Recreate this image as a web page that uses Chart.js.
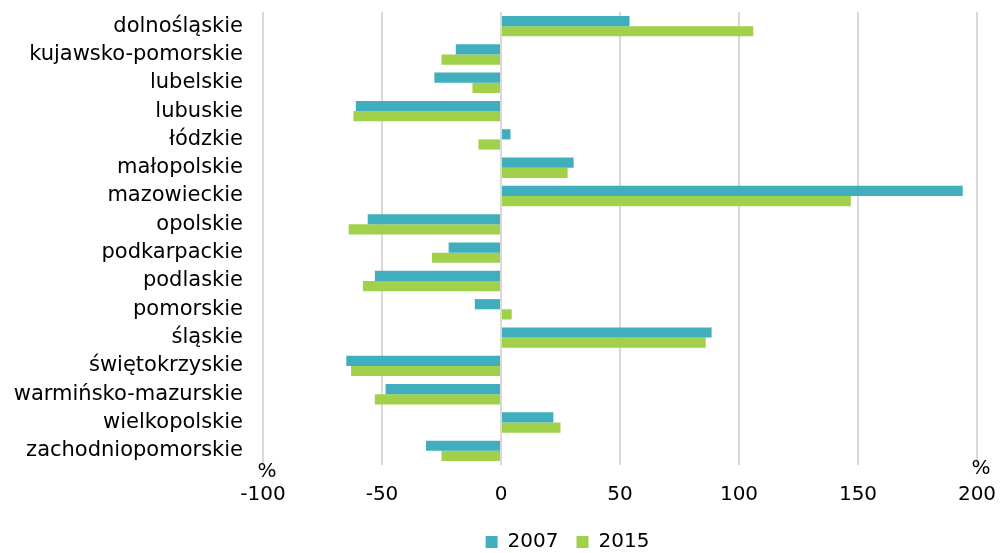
<!DOCTYPE html>
<html><head><meta charset="utf-8">
<script src="https://cdn.jsdelivr.net/npm/chart.js@4.4.1/dist/chart.umd.min.js"></script>
<style>html,body{margin:0;padding:0;background:#fff}#wrap{width:1000px;height:553px;position:relative}</style>
</head><body><div id="wrap"><canvas id="c"></canvas></div>
<script>
const categories = ['dolnośląskie','kujawsko-pomorskie','lubelskie','lubuskie','łódzkie','małopolskie','mazowieckie','opolskie','podkarpackie','podlaskie','pomorskie','śląskie','świętokrzyskie','warmińsko-mazurskie','wielkopolskie','zachodniopomorskie'];
const values2007 = [54, -19, -28, -61, 4, 30.5, 194, -56, -22, -53, -11, 88.5, -65, -48.5, 22, -31.5];
const values2015 = [106, -25, -12, -62, -9.5, 28, 147, -64, -29, -58, 4.5, 86, -63, -53, 25, -25];
const seriesNames = ['2007', '2015'];
const xMin = -100, xMax = 200, xStep = 50;
const unitLabel = '%';

const FONT = '"DejaVu Sans", Verdana, sans-serif';

const percentPlugin = {
  id: 'percentLabels',
  afterDraw(chart) {
    const ctx = chart.ctx, x = chart.scales.x, area = chart.chartArea;
    ctx.save();
    ctx.font = '20px ' + FONT;
    ctx.fillStyle = '#000';
    ctx.textAlign = 'center';
    ctx.textBaseline = 'middle';
    ctx.fillText(unitLabel, x.getPixelForValue(xMin) + 4, area.bottom + 7);
    ctx.fillText(unitLabel, x.getPixelForValue(xMax) + 4, area.bottom + 4);
    ctx.restore();
  }
};

// shift the legend block to sit where the original places it
const legendShift = {
  id: 'legendShift',
  afterLayout(chart) {
    const lg = chart.legend;
    if (!lg) return;
    const dx = 79, dy = 9;
    lg.left += dx; lg.right += dx; lg.top += dy; lg.bottom += dy;
  }
};

new Chart(document.getElementById('c'), {
  type: 'bar',
  data: {
    labels: categories,
    datasets: [
      { label: seriesNames[0], data: values2007, backgroundColor: '#41AEBE', borderWidth: 0, barPercentage: 1, categoryPercentage: 0.72 },
      { label: seriesNames[1], data: values2015, backgroundColor: '#A1D04B', borderWidth: 0, barPercentage: 1, categoryPercentage: 0.72 }
    ]
  },
  options: {
    indexAxis: 'y',
    responsive: true,
    maintainAspectRatio: false,
    animation: false,
    layout: { padding: { top: 12, right: 23, left: 0, bottom: 0 } },
    scales: {
      x: {
        min: xMin, max: xMax,
        ticks: { stepSize: xStep, font: { family: FONT, size: 20 }, color: '#000', padding: 18 },
        grid: { color: '#d9d9d9', lineWidth: 2, drawTicks: false },
        border: { display: false },
        afterFit(s) { s.paddingLeft = 0; s.paddingRight = 0; s.height = 40; }
      },
      y: {
        ticks: { font: { family: FONT, size: 21 }, color: '#000', padding: 20, autoSkip: false },
        grid: { display: false, drawTicks: false },
        border: { display: false },
        afterFit(s) { s.width = 263; s.paddingTop = 0; s.paddingBottom = 0; }
      }
    },
    plugins: {
      legend: {
        position: 'bottom',
        labels: { boxWidth: 12, boxHeight: 12, font: { family: FONT, size: 20 }, color: '#000', padding: 18 }
      },
      tooltip: { enabled: false }
    }
  },
  plugins: [percentPlugin, legendShift]
});
</script>
</body></html>
